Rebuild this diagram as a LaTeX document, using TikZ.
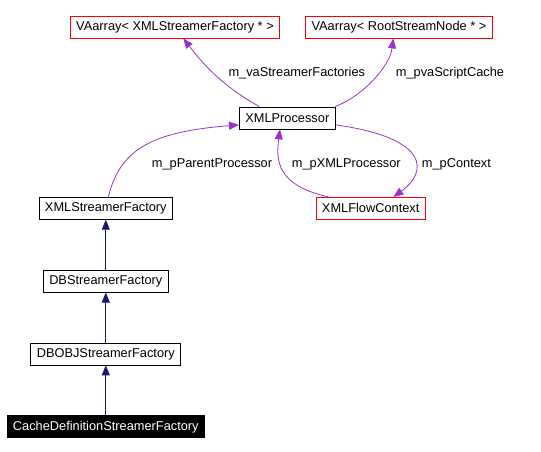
\documentclass[tikz,border=0pt]{standalone}
\usepackage{fontspec}
\setmainfont{Liberation Sans}
\usepackage{xcolor}
\usetikzlibrary{arrows.meta, positioning}

\definecolor{relpurple}{HTML}{9A32CD}
\definecolor{inhnavy}{HTML}{191970}

\begin{document}
\begin{tikzpicture}[
    x=1pt, y=-1pt,
    every node/.style={font=\fontsize{12.8}{14}\selectfont},
    cls/.style={draw, line width=0.8pt, minimum height=22pt, inner xsep=6pt, inner ysep=0pt},
    ext/.style={cls, draw=red},
    focus/.style={cls, fill=black, text=white},
    rel/.style={-{Triangle[length=10pt, width=8pt]}, relpurple, line width=0.8pt},
    inh/.style={-{Triangle[length=10pt, width=8pt]}, inhnavy, line width=0.8pt},
    lbl/.style={anchor=west, inner sep=0pt},
    node distance=50pt
]
\useasboundingbox (0,0) rectangle (541,452);

\node[ext] (vaFactories) at (175,27) {VAarray< XMLStreamerFactory * >};
\node[ext] (vaCache) at (399,27) {VAarray< RootStreamNode * >};
\node[cls] (processor) at (287.3,117.9) {XMLProcessor};
\node[ext] (flowCtx) at (370.7,208.3) {XMLFlowContext};
\node[cls] (xmlFactory) at (105.8,208.3) {XMLStreamerFactory};
\node[cls, below=of xmlFactory] (dbFactory) {DBStreamerFactory};
\node[cls, below=of dbFactory] (dbobjFactory) {DBOBJStreamerFactory};
\node[focus, below=of dbobjFactory] (cacheFactory) {CacheDefinitionStreamerFactory};

% members
\draw[rel] ([xshift=-28pt]processor.north) .. controls (220,85) and (200,60) .. ([xshift=8.3pt]vaFactories.south);
\draw[rel] ([xshift=48pt]processor.north) .. controls (365,95) and (390,65) .. ([xshift=-5.7pt]vaCache.south);
\draw[rel] ([xshift=2.5pt]xmlFactory.north) .. controls (120,150) and (150,132) .. ([yshift=-7pt]processor.west);
\draw[rel] ([xshift=-42.3pt]flowCtx.north) .. controls (276,185) and (276,160) .. ([xshift=-7.3pt]processor.south);
\draw[rel] ([yshift=-7pt]processor.east) .. controls (430,138) and (428,172) .. ([xshift=22.7pt]flowCtx.north);

\node[lbl] (lFactories) at (228.3,72.7) {m\_vaStreamerFactories};
\node[lbl] (lCache) at (395.7,72.7) {m\_pvaScriptCache};
\node[lbl] (lParent) at (151.7,164) {m\_pParentProcessor};
\node[lbl] (lProc) at (291.7,164) {m\_pXMLProcessor};
\node[lbl] (lCtx) at (421.7,164) {m\_pContext};

% inheritance
\draw[inh] (dbFactory) -- (xmlFactory);
\draw[inh] (dbobjFactory) -- (dbFactory);
\draw[inh] (cacheFactory) -- (dbobjFactory);
\end{tikzpicture}
\end{document}
